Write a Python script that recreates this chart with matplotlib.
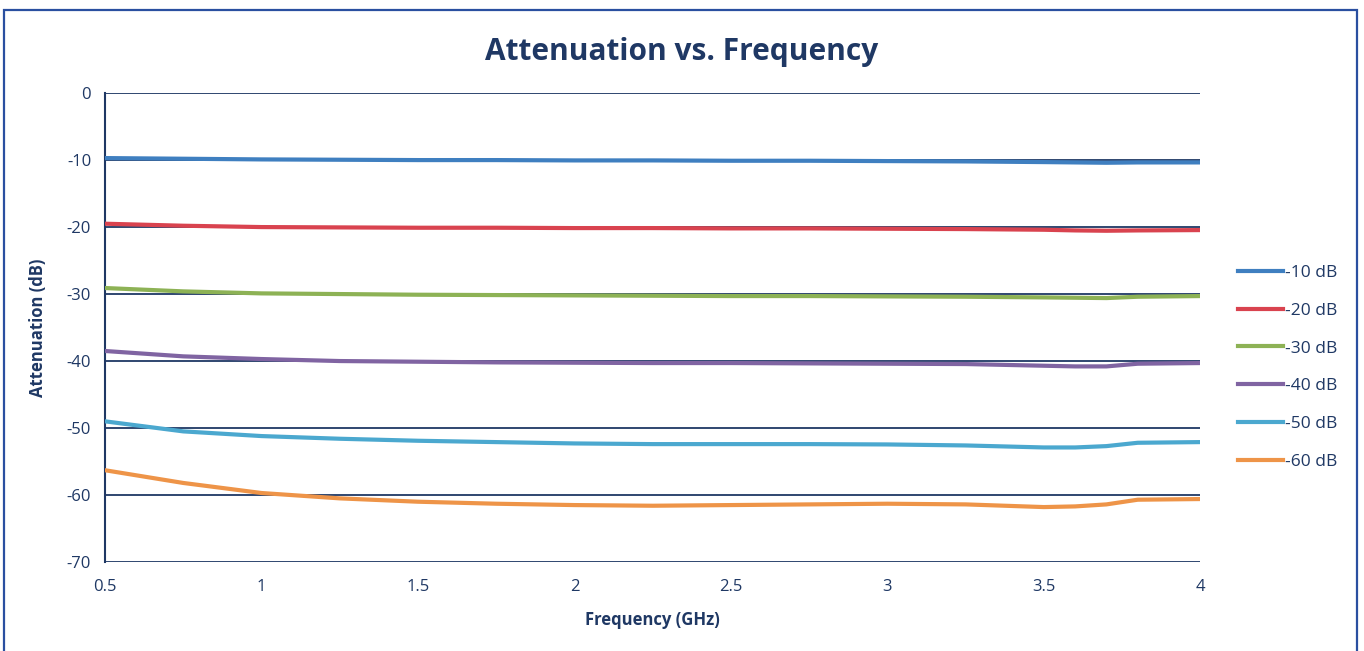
import matplotlib.pyplot as plt
from matplotlib.patches import Rectangle

# Measured frequency points (GHz)
freq = [0.5, 0.75, 1.0, 1.25, 1.5, 1.75, 2.0, 2.25, 2.5, 2.75, 3.0, 3.25, 3.5, 3.6, 3.7, 3.8, 4.0]

# Attenuation readings (dB) per attenuator setting
att_10 = [-9.7, -9.8, -9.9, -9.95, -10.0, -10.0, -10.05, -10.05, -10.1, -10.1, -10.15, -10.2, -10.3, -10.35, -10.4, -10.35, -10.35]
att_20 = [-19.5, -19.8, -20.0, -20.05, -20.1, -20.1, -20.15, -20.15, -20.2, -20.2, -20.25, -20.3, -20.4, -20.5, -20.55, -20.5, -20.45]
att_30 = [-29.1, -29.6, -29.9, -30.0, -30.1, -30.15, -30.2, -30.25, -30.3, -30.3, -30.35, -30.4, -30.5, -30.55, -30.6, -30.4, -30.3]
att_40 = [-38.5, -39.3, -39.7, -40.0, -40.1, -40.2, -40.25, -40.3, -40.3, -40.35, -40.4, -40.45, -40.7, -40.8, -40.8, -40.4, -40.3]
att_50 = [-49.0, -50.5, -51.2, -51.6, -51.9, -52.1, -52.3, -52.4, -52.4, -52.4, -52.45, -52.6, -52.9, -52.9, -52.7, -52.2, -52.1]
att_60 = [-56.3, -58.2, -59.7, -60.5, -61.0, -61.3, -61.5, -61.6, -61.5, -61.4, -61.3, -61.4, -61.8, -61.7, -61.4, -60.7, -60.6]

labels = ["-10 dB", "-20 dB", "-30 dB", "-40 dB", "-50 dB", "-60 dB"]
colors = ["#3F7FC0", "#D9434F", "#8DB255", "#8064A2", "#4BA8CF", "#EE9448"]
x_ticks = [0.5, 1, 1.5, 2, 2.5, 3, 3.5, 4]
x_ticklabels = ["0.5", "1", "1.5", "2", "2.5", "3", "3.5", "4"]
y_ticks = [0, -10, -20, -30, -40, -50, -60, -70]

navy = "#1F3864"
plt.rcParams["font.family"] = ["Open Sans", "DejaVu Sans"]

fig = plt.figure(figsize=(13.64, 6.51), dpi=100)
ax = fig.add_axes([0.077, 0.1367, 0.803, 0.7203])

# Chart border
fig.patches.append(Rectangle((0.003, -0.05), 0.992, 1.035, transform=fig.transFigure,
                             fill=False, edgecolor="#2A4FA0", linewidth=1.6))

series = [att_10, att_20, att_30, att_40, att_50, att_60]
for vals, lab, col in zip(series, labels, colors):
    ax.plot(freq, vals, color=col, linewidth=3, label=lab, zorder=3)

ax.set_xlim(0.5, 4)
ax.set_ylim(-70, 0)
ax.set_xticks(x_ticks)
ax.set_xticklabels(x_ticklabels)
ax.set_yticks(y_ticks)
ax.set_yticklabels([str(t) for t in y_ticks])
ax.yaxis.grid(True, color=navy, linewidth=1.3)
ax.set_axisbelow(True)
for side in ["top", "right", "bottom"]:
    ax.spines[side].set_visible(False)
ax.spines["left"].set_color(navy)
ax.spines["left"].set_linewidth(1.5)
ax.tick_params(axis="both", length=0, labelsize=12, labelcolor=navy, pad=10)
ax.tick_params(axis="x", pad=12)

ax.set_xlabel("Frequency (GHz)", fontsize=12, fontweight="bold", color=navy, labelpad=12)
ax.set_ylabel("Attenuation (dB)", fontsize=12, fontweight="bold", color=navy, labelpad=14)
fig.text(0.5, 0.92, "Attenuation vs. Frequency", ha="center", va="center",
         fontsize=21.5, fontweight="bold", color=navy)

ax.legend(loc="center left", bbox_to_anchor=(1.02, 0.415), frameon=False, fontsize=12.5,
          labelcolor=navy, handlelength=2.6, handletextpad=0.1, labelspacing=1.25)

fig.savefig("out.png", dpi=100)
